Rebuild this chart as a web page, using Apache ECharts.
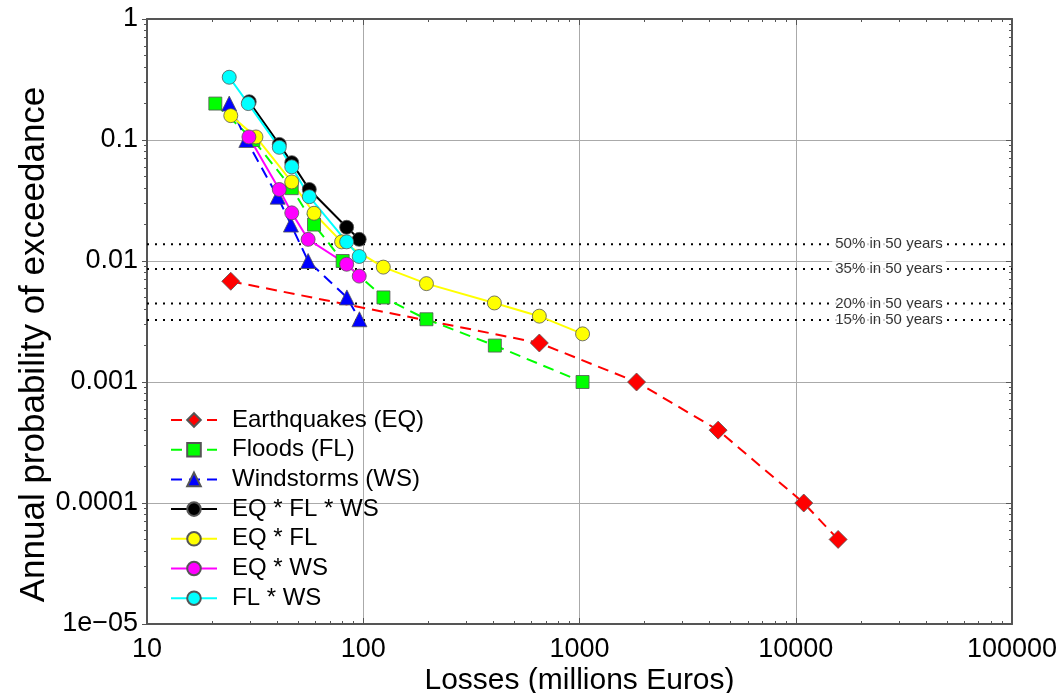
<!doctype html>
<html>
<head>
    <meta charset="UTF-8">
    <title>Loss exceedance curves</title>
    <script src="https://cdn.jsdelivr.net/npm/echarts@6/dist/echarts.min.js"></script>
    <style>
        html, body { margin: 0; padding: 0; background: #fff; }
        #main { width: 1062px; height: 693px; }
    </style>
</head>
<body>
<div id="main"></div>
<script type="text/javascript">
    // losses (millions Euros) and annual probability of exceedance
    var eqLoss = [24.4, 652, 1836, 4375, 10890, 15700];
    var eqProb = [0.0068, 0.0021, 0.001, 0.0004, 0.0001, 0.00005];

    var flLoss = [20.7, 31, 46.7, 59.2, 80.3, 124, 196, 406, 1033];
    var flProb = [0.2, 0.1, 0.04, 0.02, 0.01, 0.005, 0.0033, 0.002, 0.001];

    var wsLoss = [24, 28.8, 40.2, 46.3, 55.6, 84, 96];
    var wsProb = [0.2, 0.1, 0.034, 0.02, 0.01, 0.005, 0.0033];

    var eqFlWsLoss = [29.7, 40.9, 46.7, 56.3, 83.8, 95.8];
    var eqFlWsProb = [0.207, 0.092, 0.065, 0.039, 0.019, 0.0151];

    var eqFlLoss = [24.4, 31.9, 46.7, 59.2, 79.4, 123.8, 196, 404, 652, 1033];
    var eqFlProb = [0.159, 0.106, 0.045, 0.0248, 0.0144, 0.0089, 0.0065, 0.0045, 0.0035, 0.0025];

    var eqWsLoss = [29.6, 40.9, 46.7, 55.6, 83.8, 95.8];
    var eqWsProb = [0.106, 0.039, 0.025, 0.0151, 0.0094, 0.0075];

    var flWsLoss = [24, 29.4, 40.9, 46.7, 56.3, 83.8, 95.8];
    var flWsProb = [0.33, 0.2, 0.087, 0.06, 0.034, 0.0144, 0.0109];

    // probability of exceedance levels (dotted lines)
    var thresholdProbs = [0.01377, 0.00858, 0.00445, 0.00325];
    var thresholdLabels = ['50% in 50 years', '35% in 50 years', '20% in 50 years', '15% in 50 years'];
    var thresholdLabelLoss = 27000;

    var xRange = [10, 100000];
    var yTickValues = [1e-5, 1e-4, 1e-3, 0.01, 0.1, 1];
    var yTickLabels = ['1e\u221205', '0.0001', '0.001', '0.01', '0.1', '1'];

    var FONT = 'Liberation Sans, Arial, Helvetica, sans-serif';

    function pairs(xs, ys) {
        var res = [];
        for (var i = 0; i < xs.length; i++) {
            res.push([xs[i], ys[i]]);
        }
        return res;
    }

    function curve(name, xs, ys, color, symbol, size, dashed) {
        return {
            name: name,
            type: 'line',
            data: pairs(xs, ys),
            symbol: symbol,
            symbolSize: size,
            showAllSymbol: true,
            z: 3,
            lineStyle: {color: color, width: 2, type: dashed ? [11, 7] : 'solid'},
            itemStyle: {color: color, borderColor: '#555', borderWidth: 0.8},
            emphasis: {disabled: true},
            animation: false
        };
    }

    // one dotted line across the plot for every level
    var levelSeries = thresholdProbs.map(function (p) {
        return {
            type: 'line',
            data: [[xRange[0], p], [xRange[1], p]],
            symbol: 'none',
            silent: true,
            z: 1,
            lineStyle: {color: '#000', width: 2, type: [2, 6]},
            animation: false
        };
    });

    var minor = {show: true, splitNumber: 9, length: 3, lineStyle: {color: '#555'}};

    var myChart = echarts.init(document.getElementById('main'));

    var option = {
        backgroundColor: '#fff',
        textStyle: {fontFamily: FONT},
        grid: {left: 147, right: 50, top: 19, bottom: 69, outerBoundsMode: 'none', containLabel: false},
        legend: {
            orient: 'vertical',
            left: 165,
            top: 403,
            itemWidth: 46,
            itemHeight: 17,
            itemGap: 5.7,
            textStyle: {fontSize: 24, color: '#000', fontFamily: FONT, padding: [0, 0, 0, 10]},
            data: ['Earthquakes (EQ)', 'Floods (FL)', 'Windstorms (WS)', 'EQ * FL * WS', 'EQ * FL', 'EQ * WS', 'FL * WS']
        },
        xAxis: [{
            type: 'log',
            logBase: 10,
            min: xRange[0],
            max: xRange[1],
            name: 'Losses (millions Euros)',
            nameLocation: 'middle',
            nameGap: 42,
            nameMoveOverlap: false,
            nameTextStyle: {fontSize: 30, color: '#000', fontFamily: FONT},
            axisLine: {lineStyle: {color: '#555', width: 2}},
            axisTick: {show: true, inside: true, length: 6, lineStyle: {color: '#555'}},
            minorTick: minor,
            axisLabel: {
                fontSize: 27, color: '#000', margin: 12, fontFamily: FONT,
                formatter: function (v) { return String(Math.round(v)); }
            },
            splitLine: {show: true, lineStyle: {color: '#aaa', width: 1}}
        }, {
            type: 'log',
            logBase: 10,
            min: xRange[0],
            max: xRange[1],
            position: 'top',
            axisLine: {lineStyle: {color: '#555', width: 2}},
            axisTick: {show: true, inside: true, length: 6, lineStyle: {color: '#555'}},
            minorTick: minor,
            axisLabel: {show: false},
            splitLine: {show: false}
        }],
        yAxis: [{
            type: 'log',
            logBase: 10,
            min: yTickValues[0],
            max: yTickValues[yTickValues.length - 1],
            name: 'Annual probability of exceedance',
            nameLocation: 'middle',
            nameGap: 95,
            nameMoveOverlap: false,
            nameTextStyle: {fontSize: 35, color: '#000', fontFamily: FONT, padding: [0, 46, 0, 0]},
            axisLine: {lineStyle: {color: '#555', width: 2}},
            axisTick: {show: true, length: 5, lineStyle: {color: '#555'}},
            minorTick: minor,
            axisLabel: {
                fontSize: 27, color: '#000', margin: 9, fontFamily: FONT,
                formatter: function (v) {
                    for (var i = 0; i < yTickValues.length; i++) {
                        if (Math.abs(Math.log10(v) - Math.log10(yTickValues[i])) < 1e-6) {
                            return yTickLabels[i];
                        }
                    }
                    return '';
                }
            },
            splitLine: {show: true, lineStyle: {color: '#aaa', width: 1}}
        }, {
            type: 'log',
            logBase: 10,
            min: yTickValues[0],
            max: yTickValues[yTickValues.length - 1],
            position: 'right',
            axisLine: {lineStyle: {color: '#555', width: 2}},
            axisTick: {show: true, inside: true, length: 6, lineStyle: {color: '#555'}},
            minorTick: minor,
            axisLabel: {show: false},
            splitLine: {show: false}
        }],
        series: levelSeries.concat([
            {
                name: 'levels',
                type: 'scatter',
                symbolSize: 0,
                z: 2,
                silent: true,
                animation: false,
                data: thresholdProbs.map(function (p, i) {
                    return {value: [thresholdLabelLoss, p], label: {formatter: thresholdLabels[i]}};
                }),
                label: {
                    show: true,
                    position: 'inside',
                    fontSize: 15,
                    color: '#000',
                    fontFamily: FONT,
                    backgroundColor: '#fff',
                    padding: [4, 3]
                }
            },
            curve('Earthquakes (EQ)', eqLoss, eqProb, '#ff0000', 'diamond', 18, true),
            curve('Floods (FL)', flLoss, flProb, '#00ff00', 'rect', 13, true),
            curve('Windstorms (WS)', wsLoss, wsProb, '#0000ff', 'triangle', 15, true),
            curve('EQ * FL * WS', eqFlWsLoss, eqFlWsProb, '#000000', 'circle', 14, false),
            curve('EQ * FL', eqFlLoss, eqFlProb, '#ffff00', 'circle', 14, false),
            curve('EQ * WS', eqWsLoss, eqWsProb, '#ff00ff', 'circle', 14, false),
            curve('FL * WS', flWsLoss, flWsProb, '#00ffff', 'circle', 14, false)
        ])
    };

    myChart.setOption(option);
</script>
</body>
</html>
